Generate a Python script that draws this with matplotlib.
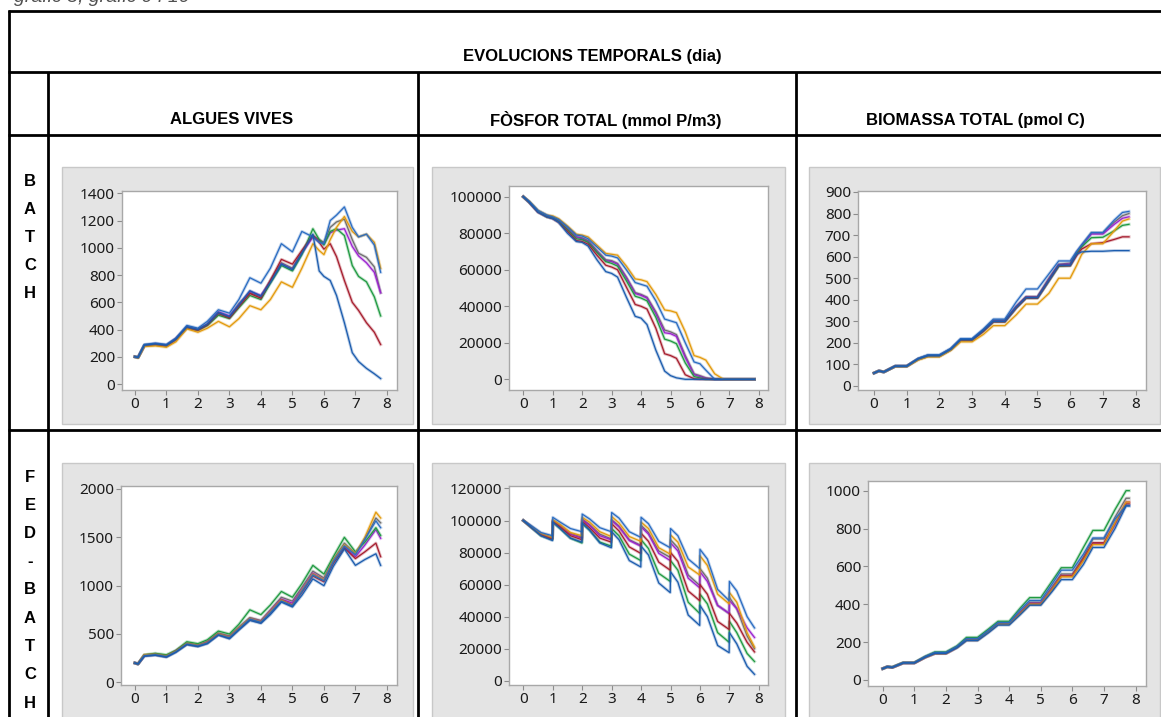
import matplotlib
matplotlib.use("Agg")
import matplotlib.pyplot as plt
from matplotlib.patches import Rectangle
from matplotlib.lines import Line2D

# ---- data (time in days) ----
# BATCH - algues vives
t_alg_batch = [0, 0.1, 0.3, 0.65, 1.0, 1.3, 1.65, 2.0, 2.3, 2.65, 3.0, 3.3, 3.65, 4.0, 4.3,
               4.65, 5.0, 5.3, 5.65, 5.85, 6.0, 6.2, 6.4, 6.65, 6.9, 7.1, 7.35, 7.6, 7.8]
alg_batch_gray = [200, 195, 285, 290, 280, 330, 410, 395, 435, 515, 490, 590, 670, 640, 760,
                  890, 850, 970, 1090, 1060, 1040, 1150, 1190, 1210, 1060, 960, 930, 860, 670]
alg_batch_purple = [200, 195, 285, 295, 285, 335, 420, 400, 440, 530, 500, 580, 680, 650, 750,
                    880, 840, 960, 1080, 1050, 1030, 1110, 1130, 1140, 1010, 940, 890, 820, 670]
alg_batch_green = [200, 195, 285, 290, 280, 330, 415, 395, 430, 505, 480, 560, 650, 620, 740,
                   870, 830, 950, 1140, 1060, 1020, 1120, 1140, 1090, 870, 790, 750, 640, 500]
alg_batch_red = [200, 195, 280, 290, 280, 325, 415, 395, 435, 520, 485, 570, 665, 630, 760,
                 915, 880, 980, 1090, 1040, 990, 1030, 935, 760, 600, 540, 450, 380, 290]
alg_batch_orange = [200, 190, 275, 280, 270, 310, 405, 380, 410, 460, 420, 480, 575, 545, 620,
                    750, 710, 850, 1030, 980, 950, 1060, 1150, 1230, 1120, 1080, 1100, 1040, 850]
alg_batch_blue_top = [200, 195, 290, 300, 290, 335, 430, 410, 460, 545, 520, 620, 780, 740, 850,
                      1030, 970, 1120, 1080, 1040, 1030, 1200, 1240, 1300, 1150, 1080, 1100, 1020, 820]
alg_batch_blue_low = [200, 195, 285, 295, 285, 330, 420, 400, 440, 525, 495, 580, 685, 645, 745,
                      880, 840, 960, 1100, 830, 790, 760, 650, 450, 230, 165, 115, 75, 40]

# BATCH - fosfor total
t_p_batch = [0, 0.2, 0.5, 0.8, 1.0, 1.2, 1.5, 1.8, 2.0, 2.2, 2.5, 2.8, 3.0, 3.2, 3.5, 3.8,
             4.0, 4.2, 4.5, 4.8, 5.0, 5.2, 5.5, 5.8, 6.0, 6.2, 6.5, 6.8, 7.0, 7.5, 7.85]
p_batch_gray = [100000, 97000, 92000, 89500, 88500, 87000, 82500, 78000, 77500, 76000, 70500,
                65500, 65000, 63500, 56000, 47500, 46500, 45000, 37000, 27000, 26000, 24500,
                13000, 3000, 2000, 800, 0, 0, 0, 0, 0]
p_batch_purple = [100000, 97000, 92000, 89500, 88500, 87000, 82500, 78000, 77000, 75500, 70000,
                  65000, 64500, 63000, 55500, 47000, 46000, 44500, 36000, 25500, 25000, 23500,
                  12000, 2500, 1500, 500, 0, 0, 0, 0, 0]
p_batch_green = [100000, 97000, 92000, 89000, 88500, 86500, 82000, 77000, 76500, 75000, 69500,
                 64500, 63500, 62000, 54000, 45500, 44500, 43000, 34000, 22000, 21000, 19500,
                 9000, 1500, 800, 0, 0, 0, 0, 0, 0]
p_batch_red = [100000, 97000, 91500, 89000, 88000, 86000, 81000, 76000, 75500, 74000, 68000,
               62500, 61500, 60000, 50500, 41000, 40000, 38500, 28000, 14000, 13000, 11500,
               2500, 300, 0, 0, 0, 0, 0, 0, 0]
p_batch_orange = [100000, 97500, 92500, 90000, 89500, 88000, 84000, 79500, 79000, 78000, 73500,
                  69000, 68500, 68000, 62000, 55000, 54500, 53500, 46500, 38000, 37500, 36500,
                  26000, 13000, 12000, 10500, 3000, 0, 0, 0, 0]
p_batch_blue_top = [100000, 97500, 92500, 90000, 89000, 87500, 83500, 79000, 78500, 77000, 72500,
                    68000, 67500, 66500, 60000, 53000, 52000, 51000, 43000, 33000, 32000, 31000,
                    20000, 9500, 8500, 5000, 0, 0, 0, 0, 0]
p_batch_blue_low = [100000, 97000, 91500, 89000, 88000, 86000, 80000, 75500, 75000, 73000, 65500,
                    59000, 58000, 56000, 45000, 34500, 33500, 30000, 16000, 4500, 2000, 800,
                    0, 0, 0, 0, 0, 0, 0, 0, 0]

# BATCH - biomassa total
t_bio_batch = [0, 0.15, 0.3, 0.65, 1.0, 1.35, 1.65, 2.0, 2.35, 2.65, 3.0, 3.35, 3.65, 4.0,
               4.35, 4.65, 5.0, 5.35, 5.65, 6.0, 6.2, 6.35, 6.65, 7.0, 7.35, 7.6, 7.8]
bio_batch_gray = [60, 70, 65, 92, 92, 125, 140, 140, 170, 215, 215, 260, 305, 305, 370, 415, 415,
                  500, 565, 570, 620, 650, 710, 710, 760, 790, 800]
bio_batch_purple = [60, 70, 65, 92, 92, 125, 140, 140, 170, 214, 214, 258, 302, 302, 368, 412, 412,
                    495, 562, 565, 620, 650, 705, 705, 750, 778, 785]
bio_batch_green = [60, 70, 65, 92, 92, 125, 140, 140, 170, 213, 213, 255, 298, 298, 362, 408, 408,
                   488, 555, 558, 615, 645, 688, 690, 720, 745, 750]
bio_batch_red = [60, 70, 65, 92, 92, 125, 140, 140, 170, 213, 213, 255, 298, 298, 362, 408, 408,
                 488, 558, 558, 605, 635, 660, 665, 680, 692, 692]
bio_batch_orange = [60, 70, 65, 90, 90, 120, 135, 135, 165, 205, 205, 240, 280, 280, 330, 380, 380,
                    430, 500, 500, 560, 610, 660, 660, 720, 765, 775]
bio_batch_blue_top = [60, 70, 65, 92, 92, 128, 145, 145, 175, 220, 220, 265, 310, 310, 390, 450, 450,
                      520, 580, 580, 625, 655, 712, 712, 770, 805, 810]
bio_batch_blue_low = [60, 70, 65, 92, 92, 125, 140, 140, 170, 215, 215, 258, 300, 300, 365, 410, 410,
                      490, 560, 560, 612, 622, 625, 625, 628, 628, 628]

# FED-BATCH - algues vives
t_alg_fed = [0, 0.1, 0.3, 0.65, 1.0, 1.3, 1.65, 2.0, 2.3, 2.65, 3.0, 3.3, 3.65, 4.0, 4.3,
             4.65, 5.0, 5.3, 5.65, 6.0, 6.3, 6.65, 7.0, 7.3, 7.65, 7.8]
alg_fed_gray = [200, 190, 280, 290, 270, 325, 405, 385, 420, 510, 480, 570, 670, 640, 750, 880,
                840, 980, 1150, 1080, 1270, 1440, 1330, 1480, 1700, 1650]
alg_fed_purple = [200, 190, 280, 290, 270, 325, 400, 380, 420, 500, 470, 560, 660, 630, 740, 860,
                  820, 960, 1130, 1060, 1250, 1400, 1300, 1420, 1580, 1490]
alg_fed_green = [200, 190, 285, 300, 285, 330, 420, 400, 440, 530, 500, 600, 750, 700, 800, 940,
                 880, 1020, 1210, 1120, 1300, 1500, 1350, 1450, 1600, 1520]
alg_fed_red = [200, 190, 275, 285, 265, 320, 395, 375, 410, 495, 460, 550, 650, 620, 720, 850,
               800, 930, 1100, 1040, 1230, 1390, 1280, 1350, 1440, 1300]
alg_fed_orange = [200, 190, 285, 290, 270, 320, 400, 380, 410, 500, 465, 560, 660, 625, 730, 850,
                  790, 950, 1120, 1060, 1260, 1420, 1330, 1500, 1760, 1700]
alg_fed_blue_top = [200, 190, 275, 285, 265, 315, 395, 375, 405, 490, 460, 550, 655, 620, 720, 840,
                    790, 940, 1110, 1050, 1250, 1410, 1320, 1480, 1670, 1600]
alg_fed_blue_low = [200, 190, 270, 280, 260, 310, 390, 370, 400, 490, 450, 540, 640, 610, 700, 830,
                    780, 900, 1070, 1000, 1200, 1380, 1210, 1270, 1330, 1210]

# FED-BATCH - fosfor total (feed pulse at each whole day)
t_p_fed = [0, 0.25, 0.6, 0.99, 1, 1.25, 1.6, 1.99, 2, 2.25, 2.6, 2.99, 3, 3.25, 3.6, 3.99,
           4, 4.25, 4.6, 4.99, 5, 5.25, 5.6, 5.99, 6, 6.25, 6.6, 6.99, 7, 7.25, 7.6, 7.85]
p_fed_gray = [100000, 96500, 91500, 89000, 100000, 97000, 92000, 89500, 101000, 97500, 91500, 88500,
              100500, 96500, 88000, 84500, 97000, 92500, 81000, 77000, 88000, 83000, 66000, 59500,
              70000, 64000, 47000, 42000, 52000, 45000, 28000, 20000]
p_fed_purple = [100000, 96500, 91500, 89000, 100000, 96500, 91500, 89000, 100500, 97000, 90500, 88000,
                100000, 96000, 87500, 84000, 96000, 91500, 79500, 75000, 86000, 81000, 64000, 58000,
                68000, 62000, 47000, 42000, 50000, 45000, 33000, 27000]
p_fed_green = [100000, 96000, 90500, 88000, 99000, 95000, 89000, 86000, 98000, 94000, 86500, 84000,
               95000, 90500, 79000, 75000, 88000, 82500, 67000, 62000, 75000, 69000, 49000, 42000,
               54000, 48000, 30000, 24000, 37000, 30000, 17000, 12000]
p_fed_red = [100000, 96000, 91000, 88500, 99500, 96000, 90500, 88000, 99500, 95500, 89000, 86500,
             98000, 93500, 83500, 79500, 92000, 87000, 74000, 69000, 80000, 74500, 56000, 50000,
             60000, 54000, 37000, 32000, 42000, 36000, 24000, 18000]
p_fed_orange = [100000, 96500, 92000, 89500, 100500, 97500, 92500, 90500, 102000, 99000, 93000, 90000,
                102500, 98500, 90000, 87000, 99000, 95000, 83000, 79000, 91000, 86500, 71000, 66000,
                78000, 72000, 54000, 48000, 55000, 49000, 30000, 21000]
p_fed_blue_top = [100000, 97000, 92500, 90500, 102000, 99000, 95000, 93000, 104000, 101000, 95500, 93000,
                  105000, 101500, 93000, 89500, 102000, 98000, 87000, 83000, 95000, 90500, 76000, 70000,
                  82000, 76000, 57000, 50000, 62000, 56000, 40000, 33000]
p_fed_blue_low = [100000, 96000, 90500, 87500, 99000, 95000, 89000, 86500, 98500, 94000, 86000, 83000,
                  93000, 88000, 75000, 71000, 84000, 78500, 61000, 55000, 68000, 61500, 41000, 34500,
                  47000, 40000, 22000, 17500, 30000, 23000, 9000, 4000]

# FED-BATCH - biomassa total
t_bio_fed = [0, 0.15, 0.3, 0.65, 1.0, 1.35, 1.65, 2.0, 2.35, 2.65, 3.0, 3.35, 3.65, 4.0, 4.35,
             4.65, 5.0, 5.35, 5.65, 6.0, 6.35, 6.65, 7.0, 7.35, 7.7, 7.8]
bio_fed_gray = [60, 70, 66, 90, 90, 122, 143, 143, 175, 215, 215, 260, 300, 300, 360, 410, 410, 490,
                560, 560, 650, 745, 745, 860, 960, 960]
bio_fed_purple = [60, 70, 66, 90, 90, 121, 141, 141, 173, 213, 213, 257, 298, 298, 355, 405, 405, 480,
                  550, 550, 635, 720, 720, 820, 940, 940]
bio_fed_green = [60, 70, 68, 92, 92, 125, 148, 148, 180, 225, 225, 270, 310, 310, 380, 435, 435, 520,
                 593, 593, 700, 790, 790, 900, 1000, 1000]
bio_fed_red = [60, 70, 66, 90, 90, 120, 140, 140, 172, 212, 212, 255, 296, 296, 352, 400, 400, 475,
               550, 550, 640, 725, 725, 830, 930, 930]
bio_fed_orange = [60, 70, 66, 90, 90, 120, 140, 140, 172, 210, 210, 255, 295, 295, 350, 400, 400, 475,
                  545, 545, 630, 715, 715, 830, 940, 940]
bio_fed_blue_top = [60, 70, 67, 91, 91, 124, 145, 145, 177, 218, 218, 262, 303, 303, 370, 420, 420, 505,
                    580, 580, 665, 750, 750, 850, 920, 920]
bio_fed_blue_low = [60, 70, 66, 90, 90, 120, 140, 140, 170, 208, 208, 250, 290, 290, 345, 395, 395, 465,
                    530, 530, 610, 700, 700, 800, 920, 920]

col_titles = ["ALGUES VIVES", "FÒSFOR TOTAL (mmol P/m3)", "BIOMASSA TOTAL (pmol C)"]
row_titles = ["BATCH", "FED-BATCH"]

# drawing order and colours (Minitab-like palette)
series_keys = ["gray", "purple", "green", "red", "orange", "blue_top", "blue_low"]
series_colors = {"gray": "#6e6e6e", "purple": "#9b22cf", "green": "#1f9a41", "red": "#a61d2e",
                 "orange": "#e39a0c", "blue_top": "#2a6cc2", "blue_low": "#1b5cae"}

W, H = 1161, 717
plt.rcParams["font.family"] = ["Noto Sans", "DejaVu Sans"]
fig = plt.figure(figsize=(W / 100, H / 100), dpi=100)


def fx(x):
    return x / W


def fy(y):
    return 1 - y / H


def line(x0, y0, x1, y1):
    fig.add_artist(Line2D([fx(x0), fx(x1)], [fy(y0), fy(y1)], color="black", lw=2.0,
                          transform=fig.transFigure, solid_capstyle="butt"))


def gray_box(x0, y0, x1, y1):
    fig.add_artist(Rectangle((fx(x0), fy(y1)), (x1 - x0) / W, (y1 - y0) / H,
                             transform=fig.transFigure, facecolor="#e4e4e4",
                             edgecolor="#c8c8c8", lw=1.0, zorder=-2))


def panel(box, xlim, ylim, yticks, t, data):
    x0, y0, x1, y1 = box
    ax = fig.add_axes([fx(x0), fy(y1), (x1 - x0) / W, (y1 - y0) / H])
    for key in series_keys:
        c = series_colors[key]
        ax.plot(t, data[key], color=c, lw=2.2, alpha=0.3, solid_joinstyle="round")
        ax.plot(t, data[key], color=c, lw=0.9)
    ax.set_xlim(xlim)
    ax.set_ylim(ylim)
    ax.set_xticks(range(9))
    ax.set_yticks(yticks)
    for s in ax.spines.values():
        s.set_color("#a8a8a8")
        s.set_linewidth(1.0)
    ax.tick_params(direction="out", length=3.5, width=0.8, color="#8c8c8c",
                   labelsize=11, labelcolor="#1a1a1a", pad=1.5)
    return ax


# table grid
line(8, 11, 1161, 11)
line(8, 72, 1161, 72)
line(8, 135, 1161, 135)
line(8, 430, 1161, 430)
line(9, 10, 9, 717)
for xv in (48, 418, 796):
    line(xv, 72, xv, 717)

hdr = dict(family="Liberation Sans", fontweight="bold", fontsize=12, ha="center", va="center")
fig.text(fx(592), fy(57), "EVOLUCIONS TEMPORALS (dia)", **hdr)
for xc, title in zip((232, 606, 975), col_titles):
    fig.text(fx(xc), fy(120), title, **hdr)

for i, ch in enumerate(row_titles[0]):
    fig.text(fx(30), fy(182 + 27.75 * i), ch, **hdr)
for i, ch in enumerate(row_titles[1]):
    fig.text(fx(30), fy(477 + 28.25 * i), ch, **hdr)

fig.text(fx(14), fy(2), "gràfic 8, gràfic 9 i 10", family="Liberation Sans",
         fontstyle="italic", fontsize=14, color="#505050", va="baseline")

# grey panel backgrounds
for gx0, gx1 in ((62, 413), (432, 785), (809, 1160)):
    gray_box(gx0, 167, gx1, 424)
    gray_box(gx0, 463, gx1, 740)

panel((122, 191, 397, 390), (-0.41, 8.32), (-44, 1417), range(0, 1401, 200), t_alg_batch,
      {"gray": alg_batch_gray, "purple": alg_batch_purple, "green": alg_batch_green,
       "red": alg_batch_red, "orange": alg_batch_orange, "blue_top": alg_batch_blue_top,
       "blue_low": alg_batch_blue_low})
panel((509, 186, 768, 390), (-0.486, 8.31), (-5860, 105900), range(0, 100001, 20000), t_p_batch,
      {"gray": p_batch_gray, "purple": p_batch_purple, "green": p_batch_green,
       "red": p_batch_red, "orange": p_batch_orange, "blue_top": p_batch_blue_top,
       "blue_low": p_batch_blue_low})
panel((858, 191, 1146, 390), (-0.49, 8.32), (-18.6, 904.6), range(0, 901, 100), t_bio_batch,
      {"gray": bio_batch_gray, "purple": bio_batch_purple, "green": bio_batch_green,
       "red": bio_batch_red, "orange": bio_batch_orange, "blue_top": bio_batch_blue_top,
       "blue_low": bio_batch_blue_low})
panel((121, 486, 397, 685), (-0.44, 8.32), (-27.6, 2031), range(0, 2001, 500), t_alg_fed,
      {"gray": alg_fed_gray, "purple": alg_fed_purple, "green": alg_fed_green,
       "red": alg_fed_red, "orange": alg_fed_orange, "blue_top": alg_fed_blue_top,
       "blue_low": alg_fed_blue_low})
panel((509, 486, 768, 685), (-0.486, 8.31), (-2680, 121550), range(0, 120001, 20000), t_p_fed,
      {"gray": p_fed_gray, "purple": p_fed_purple, "green": p_fed_green,
       "red": p_fed_red, "orange": p_fed_orange, "blue_top": p_fed_blue_top,
       "blue_low": p_fed_blue_low})
panel((868, 481, 1146, 686), (-0.465, 8.33), (-31.7, 1051), range(0, 1001, 200), t_bio_fed,
      {"gray": bio_fed_gray, "purple": bio_fed_purple, "green": bio_fed_green,
       "red": bio_fed_red, "orange": bio_fed_orange, "blue_top": bio_fed_blue_top,
       "blue_low": bio_fed_blue_low})

fig.savefig("out.png", dpi=100)
